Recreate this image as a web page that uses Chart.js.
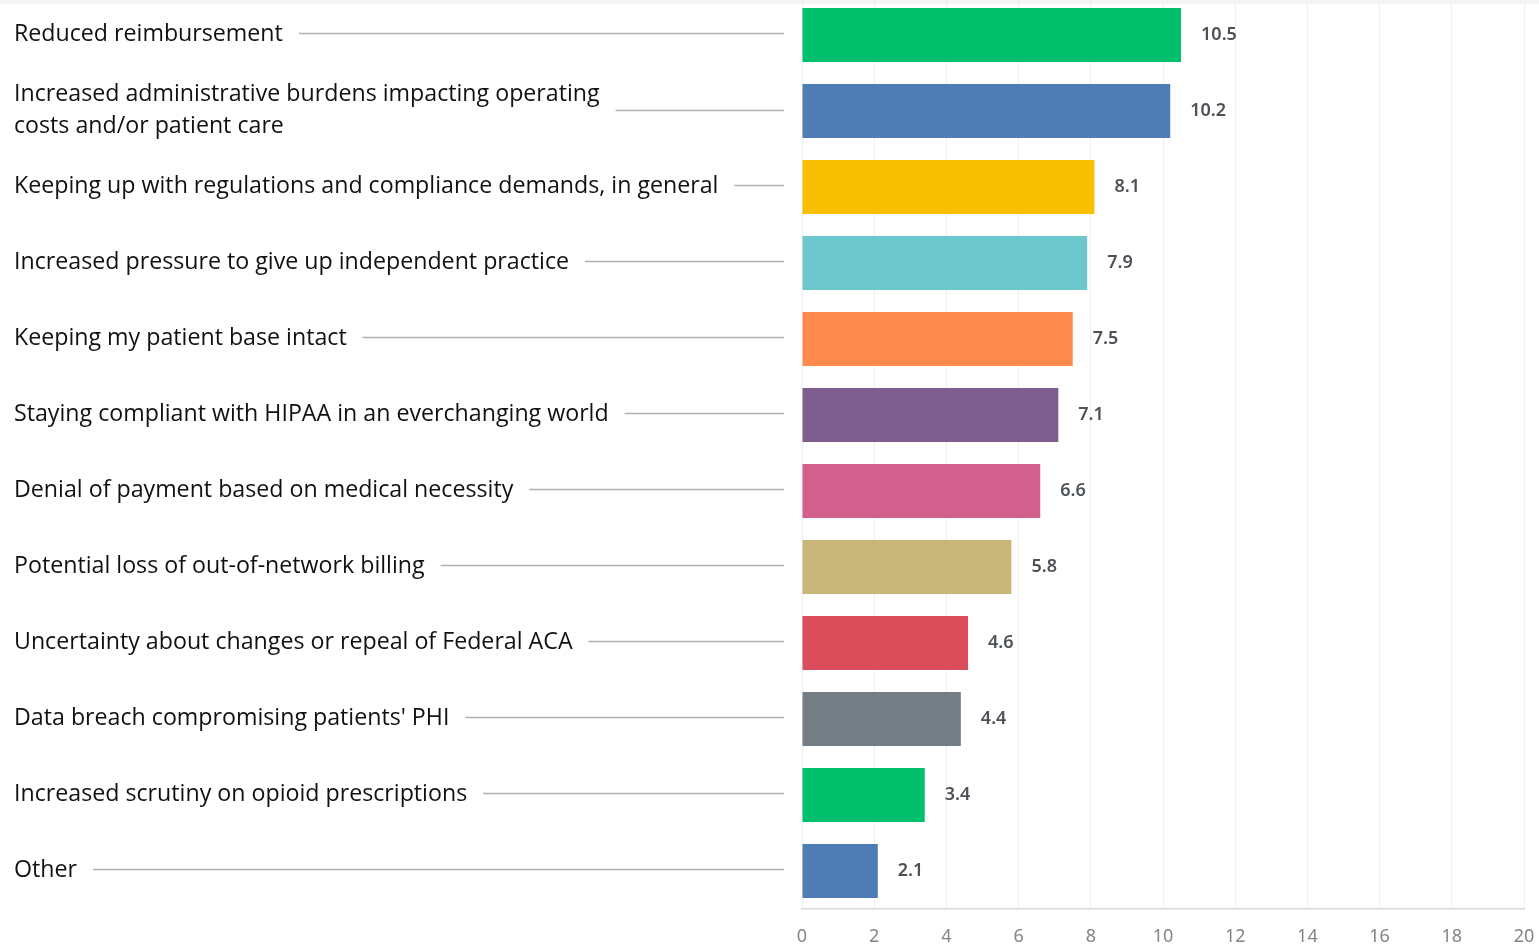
<!DOCTYPE html>
<html>
<head>
<meta charset="utf-8">
<script src="https://cdn.jsdelivr.net/npm/chart.js@4/dist/chart.umd.min.js"></script>
<style>
  html, body { margin: 0; padding: 0; background: #ffffff; overflow: hidden; }
  #topband { position: absolute; left: 0; top: 0; width: 1539px; height: 4px; background: #f4f4f4; }
  #wrap { position: absolute; left: 0; top: -3px; width: 1539px; height: 950px; }
</style>
</head>
<body>
<div id="topband"></div>
<div id="wrap"><canvas id="c" width="1539" height="950"></canvas></div>
<script>
const categories = [
  ["Reduced reimbursement"],
  ["Increased administrative burdens impacting operating", "costs and/or patient care"],
  ["Keeping up with regulations and compliance demands, in general"],
  ["Increased pressure to give up independent practice"],
  ["Keeping my patient base intact"],
  ["Staying compliant with HIPAA in an everchanging world"],
  ["Denial of payment based on medical necessity"],
  ["Potential loss of out-of-network billing"],
  ["Uncertainty about changes or repeal of Federal ACA"],
  ["Data breach compromising patients' PHI"],
  ["Increased scrutiny on opioid prescriptions"],
  ["Other"]
];
const values = [10.5, 10.2, 8.1, 7.9, 7.5, 7.1, 6.6, 5.8, 4.6, 4.4, 3.4, 2.1];
const barColors = ["#00c06e", "#507cb6", "#f8c000", "#6cc8cd", "#ff8a4e", "#7e5e8e",
                   "#d35f8d", "#c8b778", "#db4d5a", "#767e85", "#00c06e", "#507cb6"];
const xTicks = [0, 2, 4, 6, 8, 10, 12, 14, 16, 18, 20];

const labelFont = "23.2px 'Open Sans', sans-serif";
const valueFont = "600 18px 'Noto Sans', 'Open Sans', sans-serif";

const sidePlugin = {
  id: 'sideLabels',
  afterDraw(chart) {
    const ctx = chart.ctx;
    const yScale = chart.scales.y;
    ctx.save();
    ctx.font = labelFont;
    ctx.fillStyle = "#111111";
    ctx.textBaseline = "middle";
    ctx.textAlign = "left";
    const lineGap = 32;
    categories.forEach((lines, i) => {
      const cy = yScale.getPixelForValue(i);
      const n = lines.length;
      let endFirst = 0;
      lines.forEach((t, j) => {
        const y = cy + (j - (n - 1) / 2) * lineGap - 1;
        ctx.fillText(t, 14, y);
        if (j === 0) endFirst = 14 + ctx.measureText(t).width;
      });
      const ly = n > 1 ? cy - 1 : cy - 2;
      ctx.beginPath();
      ctx.strokeStyle = "#b0b0b0";
      ctx.lineWidth = 1.3;
      ctx.moveTo(endFirst + 16, ly + 0.5);
      ctx.lineTo(784, ly + 0.5);
      ctx.stroke();
    });
    const meta = chart.getDatasetMeta(0);
    ctx.font = valueFont;
    ctx.fillStyle = "#4d5258";
    meta.data.forEach((bar, i) => {
      ctx.fillText(String(values[i]), bar.x + 20, bar.y);
    });
    ctx.restore();
  }
};

new Chart(document.getElementById('c'), {
  type: 'bar',
  data: {
    labels: categories.map(l => l.join(' ')),
    datasets: [{
      data: values,
      backgroundColor: barColors,
      borderWidth: 0,
      categoryPercentage: 1.0,
      barPercentage: 0.71
    }]
  },
  options: {
    indexAxis: 'y',
    responsive: false,
    animation: false,
    layout: { padding: { left: 802, right: 15, top: 0, bottom: 2 } },
    plugins: { legend: { display: false }, tooltip: { enabled: false } },
    scales: {
      y: {
        display: false,
        grid: { display: false }
      },
      x: {
        min: 0, max: 20,
        afterBuildTicks: (axis) => { axis.ticks = xTicks.map(v => ({ value: v })); },
        afterFit: (axis) => { axis.height = 36; axis.paddingLeft = 0; axis.paddingRight = 0; },
        grid: { color: "#efefef", lineWidth: 1, drawTicks: false },
        border: { display: true, color: "#d8d8d8", width: 1.5 },
        ticks: {
          padding: 17,
          color: "#858585",
          font: { family: "'Noto Sans', sans-serif", size: 18 },
          maxRotation: 0,
          autoSkip: false
        }
      }
    }
  },
  plugins: [sidePlugin]
});
</script>
</body>
</html>
